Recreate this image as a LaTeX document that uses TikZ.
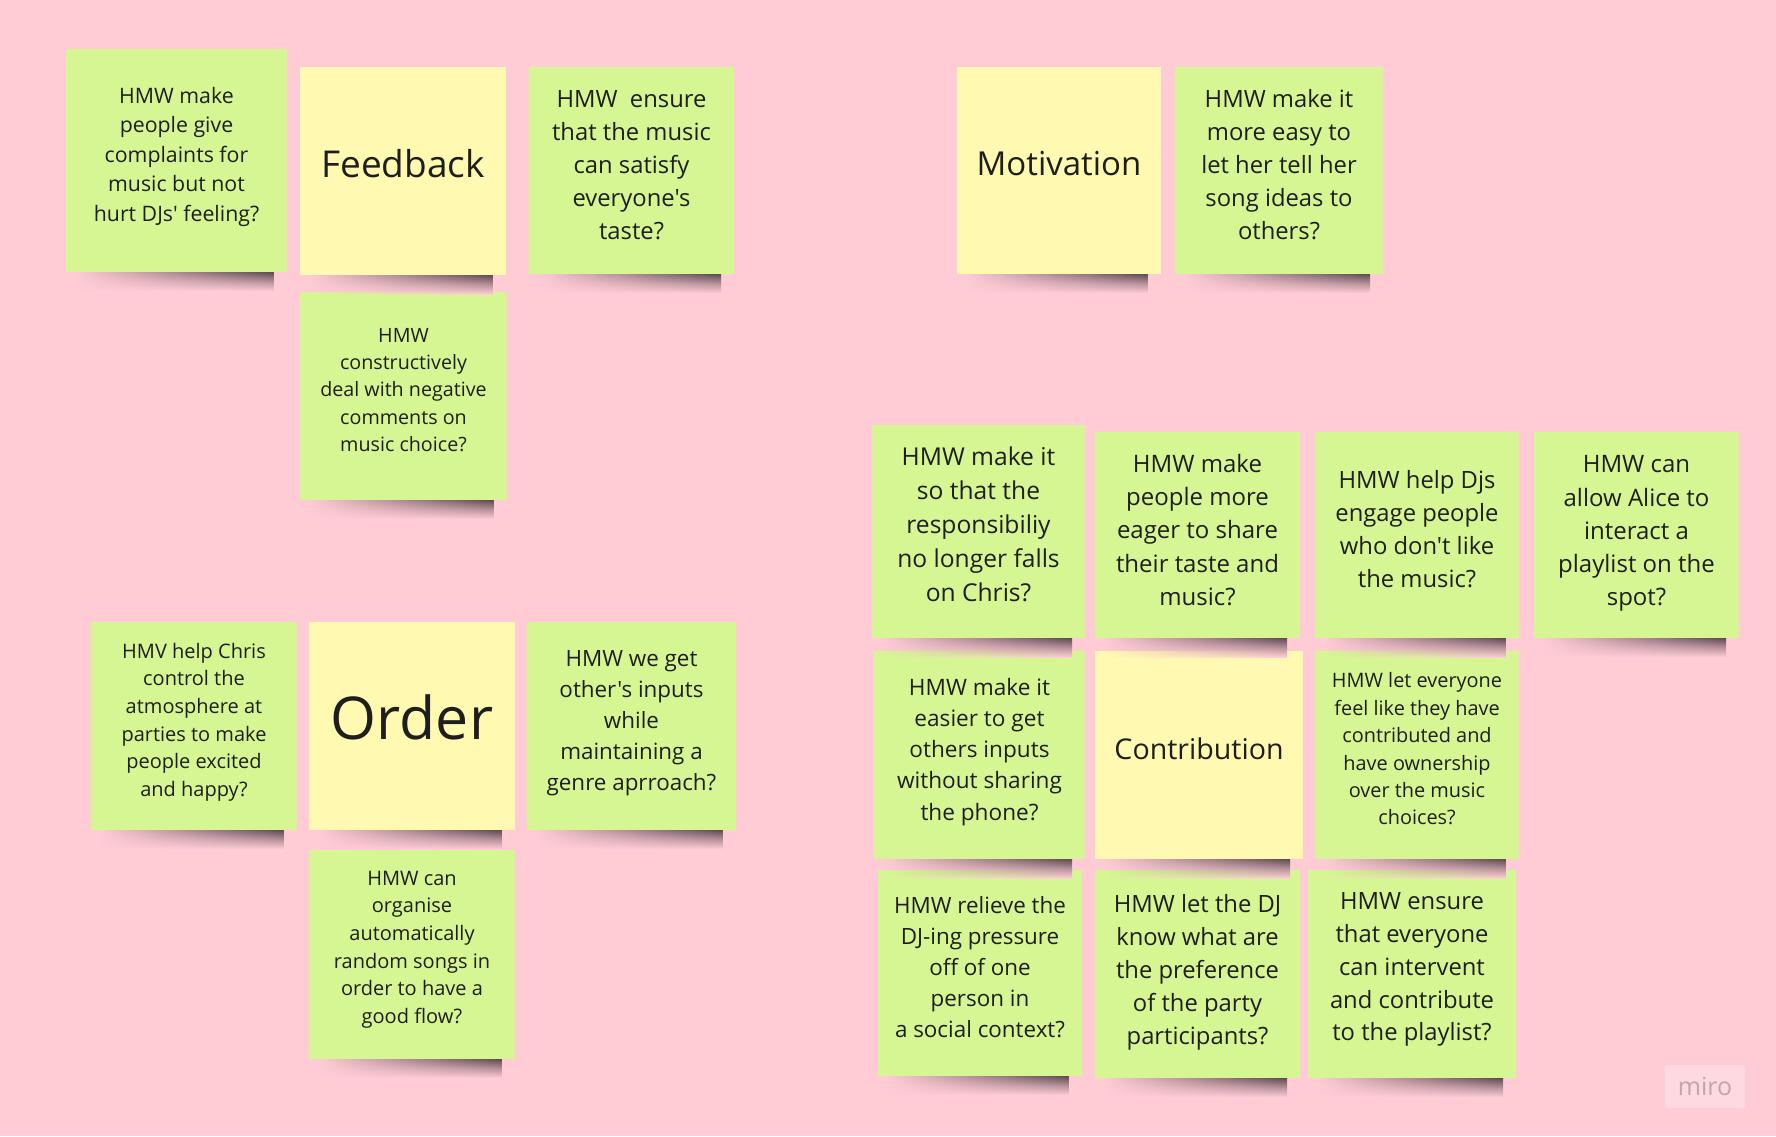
\documentclass[tikz,border=0pt]{standalone}
\usepackage{fontspec}
\setmainfont{Open Sans}[Ligatures=TeXOff]
\usetikzlibrary{fadings}
\definecolor{bgpink}{HTML}{FFCCD6}
\definecolor{notegreen}{HTML}{D6F693}
\definecolor{noteyellow}{HTML}{FFF9B1}
\definecolor{inkc}{HTML}{1E1E1E}
\definecolor{mirobg}{HTML}{FFD9E1}
\definecolor{mirotext}{HTML}{BFA6AE}
\definecolor{shdark}{HTML}{5E4A52}
\newcommand{\fz}[2]{\fontsize{#1}{#2}\selectfont}
\tikzfading[name=shfadeh, left color=transparent!100, right color=transparent!0]
\newcommand{\notesh}[1]{%
  \shade[path fading=shfadeh, top color=shdark, bottom color=bgpink, middle color=shdark!45!bgpink]
    ([xshift=10pt]#1.south west) rectangle ([xshift=-13pt,yshift=-19pt]#1.south east);}
\begin{document}
\begin{tikzpicture}[x=1pt,y=-1pt,
  note/.style={rectangle, inner sep=0pt, outer sep=0pt, draw=none},
  gnote/.style={note, fill=notegreen},
  ynote/.style={note, fill=noteyellow},
  txt/.style={align=center, text=inkc, inner sep=0pt}]
\fill[bgpink] (0,0) rectangle (1776,1136);
\useasboundingbox (0,0) rectangle (1776,1136);

% ---- Feedback cluster
\node[gnote, minimum width=221pt, minimum height=223pt] (n1) at (176.5,160.5) {};
\node[txt, font=\fz{21.3}{29.5}] (t1) at ([yshift=4pt]n1.center) {HMW make\\people give\\complaints for\\music but not\\hurt DJs' feeling?};
\node[ynote, minimum width=206pt, minimum height=208pt] (n2) at (403,171) {};
\node[txt, font=\fz{37}{44}] (t2) at ([yshift=7pt]n2.center) {Feedback};
\node[gnote, minimum width=205pt, minimum height=207pt] (n3) at (631.5,170.5) {};
\node[txt, font=\fz{23.8}{32.9}] (t3) at ([yshift=5.5pt]n3.center) {HMW\ \ ensure\\that the music\\can satisfy\\everyone's\\taste?};
\node[gnote, minimum width=207pt, minimum height=208pt] (n4) at (403.5,396) {};
\node[txt, font=\fz{19.7}{27.2}] (t4) at ([yshift=6pt]n4.center) {HMW\\constructively\\deal with negative\\comments on\\music choice?};

% ---- Motivation cluster
\node[ynote, minimum width=204pt, minimum height=207pt] (n5) at (1059,170.5) {};
\node[txt, font=\fz{33}{40}] (t5) at ([yshift=7pt]n5.center) {Motivation};
\node[gnote, minimum width=208pt, minimum height=207pt] (n6) at (1279,170.5) {};
\node[txt, font=\fz{23.8}{32.9}] (t6) at ([yshift=6pt]n6.center) {HMW make it\\more easy to\\let her tell her\\song ideas to\\others?};

% ---- Contribution cluster
\node[gnote, minimum width=213pt, minimum height=213pt] (n7) at (978.5,531.5) {};
\node[txt, font=\fz{24.6}{34}] (t7) at ([yshift=7pt]n7.center) {HMW make it\\so that the\\responsibiliy\\no longer falls\\on Chris?};
\node[gnote, minimum width=205pt, minimum height=206pt] (n8) at (1197.5,535) {};
\node[txt, font=\fz{24}{33.1}] (t8) at ([yshift=5pt]n8.center) {HMW make\\people more\\eager to share\\their taste and\\music?};
\node[gnote, minimum width=204pt, minimum height=206pt] (n9) at (1417,535) {};
\node[txt, font=\fz{23.8}{32.9}] (t9) at ([yshift=6pt]n9.center) {HMW help Djs\\engage people\\who don't like\\the music?};
\node[gnote, minimum width=205pt, minimum height=206pt] (n10) at (1636.5,535) {};
\node[txt, font=\fz{24}{33.1}] (t10) at ([yshift=1.5pt]n10.center) {HMW can\\allow Alice to\\interact a\\playlist on the\\spot?};
\node[gnote, minimum width=211pt, minimum height=208pt] (n11) at (979.5,755) {};
\node[txt, font=\fz{22.6}{31.1}] (t11) at ([yshift=3pt]n11.center) {HMW make it\\easier to get\\others inputs\\without sharing\\the phone?};
\node[ynote, minimum width=208pt, minimum height=208pt] (n12) at (1199,755) {};
\node[txt, font=\fz{28.6}{35}] (t12) at ([yshift=6pt]n12.center) {Contribution};
\node[gnote, minimum width=204pt, minimum height=208pt] (n13) at (1417,755) {};
\node[txt, font=\fz{19.9}{27.4}] (t13) at ([yshift=6pt]n13.center) {HMW let everyone\\feel like they have\\contributed and\\have ownership\\over the music\\choices?};
\node[gnote, minimum width=204pt, minimum height=206pt] (n14) at (980,973) {};
\node[txt, font=\fz{22.4}{30.9}] (t14) at ([yshift=6pt]n14.center) {HMW relieve the\\DJ-ing pressure\\off of one\\person in\\a social context?};
\node[gnote, minimum width=205pt, minimum height=208pt] (n15) at (1197.5,974) {};
\node[txt, font=\fz{23.8}{32.9}] (t15) at ([yshift=2pt]n15.center) {HMW let the DJ\\know what are\\the preference\\of the party\\participants?};
\node[gnote, minimum width=208pt, minimum height=208pt] (n16) at (1412,974) {};
\node[txt, font=\fz{23.8}{32.9}] (t16) at ([yshift=4.5pt]n16.center) {HMW ensure\\that everyone\\can intervent\\and contribute\\to the playlist?};

% ---- Order cluster
\node[gnote, minimum width=206pt, minimum height=208pt] (n17) at (194,726) {};
\node[txt, font=\fz{20}{27.6}] (t17) at ([yshift=4pt]n17.center) {HMV help Chris\\control the\\atmosphere at\\parties to make\\people excited\\and happy?};
\node[ynote, minimum width=206pt, minimum height=208pt] (n18) at (412,726) {};
\node[txt, font=\fz{59}{66}] (t18) at ([yshift=9pt]n18.center) {Order};
\node[gnote, minimum width=209pt, minimum height=208pt] (n19) at (631.5,726) {};
\node[txt, font=\fz{22.4}{30.9}] (t19) at ([yshift=3pt]n19.center) {HMW we get\\other's inputs\\while\\maintaining a\\genre aprroach?};
\node[gnote, minimum width=206pt, minimum height=209pt] (n20) at (412,954.5) {};
\node[txt, font=\fz{20}{27.6}] (t20) at ([yshift=5pt]n20.center) {HMW can\\organise\\automatically\\random songs in\\order to have a\\good flow?};

% ---- shadows under the notes
\foreach \nn in {n1,n2,n3,n4,n5,n6,n7,n8,n9,n10,n11,n12,n13,n14,n15,n16,n17,n18,n19,n20}
  {\notesh{\nn}}

% ---- miro logo
\node[fill=mirobg, rounded corners=3pt, minimum width=80pt, minimum height=43pt, inner sep=0pt] (logo) at (1705,1086.5) {};
\node[text=mirotext, font=\fz{25}{30}, inner sep=0pt] (logotxt) at (logo.center) {miro};
\end{tikzpicture}
\end{document}
